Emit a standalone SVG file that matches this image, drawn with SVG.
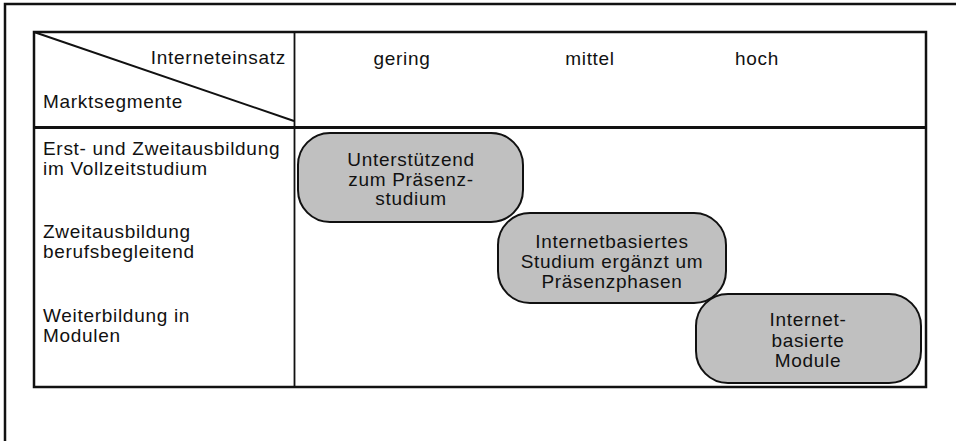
<svg xmlns="http://www.w3.org/2000/svg" width="956" height="441" viewBox="0 0 956 441">
<style>
text{font-family:"Liberation Sans",Arial,sans-serif;font-size:19px;letter-spacing:0.7px;fill:#111}
.c{text-anchor:middle}
.box{fill:#c0c0c0;stroke:#111;stroke-width:2}
.ln{stroke:#111;fill:none}
</style>
<rect width="956" height="441" fill="#fff"/>
<g id="frame">
<rect x="5" y="4" width="960" height="450" class="ln" stroke-width="2.5"/>
</g>
<g id="table">
<rect x="34" y="32" width="892" height="355" class="ln" stroke-width="2.5"/>
<line x1="34" y1="127.5" x2="926" y2="127.5" class="ln" stroke-width="3"/>
<line x1="294.5" y1="32" x2="294.5" y2="387" class="ln" stroke-width="1.8"/>
<line x1="34" y1="32" x2="294" y2="121" class="ln" stroke-width="2"/>
<text x="286" y="64" text-anchor="end">Interneteinsatz</text>
<text x="43" y="108">Marktsegmente</text>
<text x="402" y="65" class="c">gering</text>
<text x="590" y="65" class="c">mittel</text>
<text x="757" y="65" class="c">hoch</text>
<text x="43" y="155">Erst- und Zweitausbildung</text>
<text x="43" y="174.5">im Vollzeitstudium</text>
<text x="43" y="238">Zweitausbildung</text>
<text x="43" y="257.5">berufsbegleitend</text>
<text x="43" y="322">Weiterbildung in</text>
<text x="43" y="342">Modulen</text>
</g>
<g id="node1">
<rect x="298" y="133" width="225" height="89" rx="32" ry="32" class="box"/>
<text x="411" y="166" class="c">Unterstützend</text>
<text x="411" y="185.5" class="c">zum Präsenz-</text>
<text x="411" y="205" class="c">studium</text>
</g>
<g id="node2">
<rect x="498" y="213" width="228" height="90" rx="32" ry="32" class="box"/>
<text x="612" y="248" class="c">Internetbasiertes</text>
<text x="612" y="268" class="c">Studium ergänzt um</text>
<text x="612" y="288" class="c">Präsenzphasen</text>
</g>
<g id="node3">
<rect x="696" y="294" width="225" height="89" rx="32" ry="32" class="box"/>
<text x="808" y="326" class="c">Internet-</text>
<text x="808" y="346.5" class="c">basierte</text>
<text x="808" y="367" class="c">Module</text>
</g>
<g id="connectors"></g>
</svg>
